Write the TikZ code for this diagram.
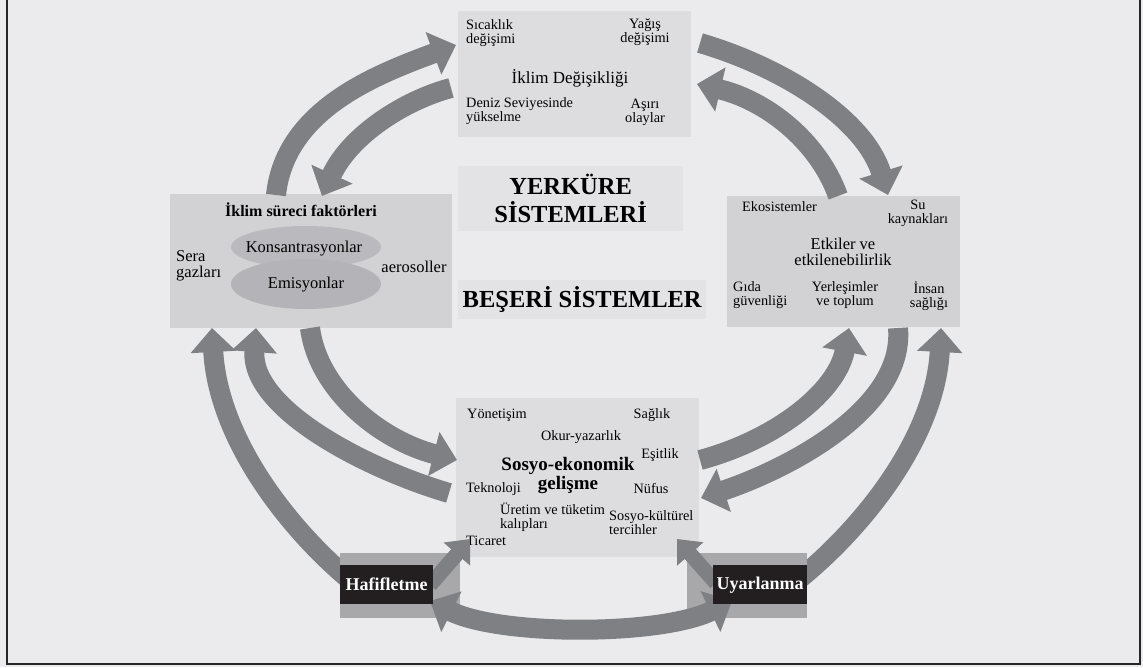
\documentclass[tikz,border=0pt]{standalone}
\usepackage{fontspec}
\setmainfont{Liberation Serif}
\usetikzlibrary{arrows.meta,shapes.geometric}
\definecolor{bg}{RGB}{235,235,237}
\definecolor{boxa}{RGB}{221,221,223}
\definecolor{boxb}{RGB}{210,210,212}
\definecolor{boxc}{RGB}{227,227,229}
\definecolor{ella}{RGB}{186,186,190}
\definecolor{ellb}{RGB}{180,180,184}
\definecolor{arrgray}{RGB}{127,128,132}
\definecolor{bargray}{RGB}{168,168,171}
\definecolor{blk}{RGB}{35,31,32}
\begin{document}
\begin{tikzpicture}[x=1pt,y=-1pt,
  panel/.style={rectangle,inner sep=0pt,anchor=north west},
  lab/.style={inner sep=0pt,align=center,font=\fontsize{14.3}{14}\selectfont},
  labm/.style={inner sep=0pt,align=center,font=\fontsize{16.5}{16}\selectfont},
  arr/.style={draw=arrgray,line width=20pt,-{Triangle[width=44pt,length=24pt]}},
  sarr/.style={draw=arrgray,line width=15pt,-{Triangle[width=34pt,length=20pt]}}]
	\fill[bg] (0,0) rectangle (1143,667);
	\useasboundingbox (0,0) rectangle (1143,667);
	\draw[line width=1.5pt,black!85] (7,-2) -- (7,664) -- (1140,664) -- (1140,-2);
	\node[panel,fill=boxa,minimum width=233pt,minimum height=126pt] (cc) at (458,11) {};
	\node[panel,fill=boxc,minimum width=225pt,minimum height=65pt,align=center,font=\bfseries\fontsize{24.5}{28}\selectfont] (yer) at (458,166) {YERKÜRE\\SİSTEMLERİ};
	\node[panel,fill=boxc,minimum width=248pt,minimum height=39pt,font=\bfseries\fontsize{24.5}{28}\selectfont] (bes) at (458,280) {BEŞERİ SİSTEMLER};
	\node[panel,fill=boxb,minimum width=282pt,minimum height=134pt] (fak) at (170,194) {};
	\node[panel,fill=boxb,minimum width=233pt,minimum height=131pt] (etk) at (727,196) {};
	\node[panel,fill=boxa,minimum width=243pt,minimum height=159pt] (sos) at (456,398) {};
	\node[lab,align=left,anchor=north west] (sic) at (466,19) {Sıcaklık\\değişimi};
	\node[lab,anchor=north] (yag) at (645,19) {Yağış\\değişimi};
	\node[inner sep=0pt,font=\fontsize{17}{17}\selectfont] (ikd) at (570,78) {İklim Değişikliği};
	\node[lab,align=left,anchor=north west] (den) at (466,97) {Deniz Seviyesinde\\yükselme};
	\node[lab,anchor=north] (asi) at (645,99) {Aşırı\\olaylar};
	\node[inner sep=0pt,font=\bfseries\fontsize{16}{16}\selectfont] (fakt) at (301,210) {İklim süreci faktörleri};
	\node[ellipse,fill=ella,minimum width=150pt,minimum height=42pt,inner sep=0pt] (kon) at (306,247) {};
	\node[ellipse,fill=ellb,minimum width=150pt,minimum height=50pt,inner sep=0pt] (emi) at (306,284) {};
	\node[labm] (kont) at (304,249) {Konsantrasyonlar};
	\node[labm] (emit) at (306,285) {Emisyonlar};
	\node[labm,align=left,anchor=west] (ser) at (176,266) {Sera\\gazları};
	\node[labm] (aer) at (414,267) {aerosoller};
	\node[lab,anchor=north west] (eko) at (742,201) {Ekosistemler};
	\node[lab,anchor=north] (suk) at (918,200) {Su\\kaynakları};
	\node[labm] (etkt) at (843,252) {Etkiler ve\\etkilenebilirlik};
	\node[lab,align=left,anchor=north west] (gid) at (733,281) {Gıda\\güvenliği};
	\node[lab,anchor=north] (yerl) at (845,281) {Yerleşimler\\ve toplum};
	\node[lab,anchor=north] (ins) at (929,281) {İnsan\\sağlığı};
	\node[lab,anchor=west] (yon) at (467,415) {Yönetişim};
	\node[lab] (sag) at (652,415) {Sağlık};
	\node[lab] (oku) at (581,437) {Okur-yazarlık};
	\node[lab] (esi) at (660,455) {Eşitlik};
	\node[inner sep=0pt,align=center,font=\bfseries\fontsize{19}{19}\selectfont] (sek) at (568,475) {Sosyo-ekonomik\\gelişme};
	\node[lab,anchor=west] (tek) at (466,489) {Teknoloji};
	\node[lab] (nuf) at (651,489) {Nüfus};
	\node[lab,align=left,anchor=north west] (ure) at (500,503) {Üretim ve tüketim\\kalıpları};
	\node[lab,align=left,anchor=north west] (sku) at (609,510) {Sosyo-kültürel\\tercihler};
	\node[lab,anchor=west] (tic) at (466,541) {Ticaret};
	\coordinate (f1) at (276,195); \coordinate (c1) at (456,45);
	\coordinate (c2) at (451,88); \coordinate (f2) at (322,196);
	\coordinate (c3) at (700,43); \coordinate (e1) at (888,195);
	\coordinate (e2) at (838,196); \coordinate (c4) at (697,84);
	\coordinate (h1) at (350,580); \coordinate (f3) at (212,328);
	\coordinate (s1) at (449,493); \coordinate (f4) at (256,328);
	\coordinate (f5) at (310,328); \coordinate (s2) at (457,460);
	\coordinate (s3) at (700,460); \coordinate (e3) at (849,328);
	\coordinate (e4) at (898,328); \coordinate (s4) at (701,498);
	\coordinate (u1) at (798,580); \coordinate (e5) at (941,328);
	\coordinate (h2) at (430,585); \coordinate (s5) at (470,539);
	\coordinate (u2) at (716,583); \coordinate (s6) at (677,539);
	\coordinate (h3) at (430,601); \coordinate (u3) at (732,601);
	\draw[arr] (h1) .. controls (290,530) and (218,440) .. (f3);
	\draw[arr] (u1) .. controls (860,530) and (935,440) .. (e5);
	\node[panel,fill=bargray,minimum width=120pt,minimum height=65pt] (hafb) at (340,553) {};
	\node[panel,fill=bargray,minimum width=120pt,minimum height=65pt] (uyab) at (687,553) {};
	\draw[arr] (f1) .. controls (285,110) and (375,75) .. (c1);
	\draw[arr] (c2) .. controls (405,100) and (350,135) .. (f2);
	\draw[arr] (c3) .. controls (785,68) and (865,120) .. (e1);
	\draw[arr] (e2) .. controls (818,140) and (765,100) .. (c4);
	\draw[arr] (s1) .. controls (370,470) and (250,410) .. (f4);
	\draw[arr] (f5) .. controls (318,390) and (380,440) .. (s2);
	\draw[arr] (s3) .. controls (775,440) and (837,392) .. (e3);
	\draw[arr] (e4) .. controls (905,410) and (785,470) .. (s4);
	\draw[sarr] (h2) -- (s5);
	\draw[sarr] (u2) -- (s6);
	\draw[arr,{Triangle[width=44pt,length=24pt]}-{Triangle[width=44pt,length=24pt]}] (h3) .. controls (500,636) and (660,636) .. (u3);
	\node[panel,fill=blk,minimum width=93pt,minimum height=39pt,text=white,font=\bfseries\fontsize{18}{18}\selectfont] (haf) at (340,565) {Hafifletme};
	\node[panel,fill=blk,minimum width=94pt,minimum height=39pt,text=white,font=\bfseries\fontsize{18}{18}\selectfont] (uya) at (713,565) {Uyarlanma};
\end{tikzpicture}
\end{document}
